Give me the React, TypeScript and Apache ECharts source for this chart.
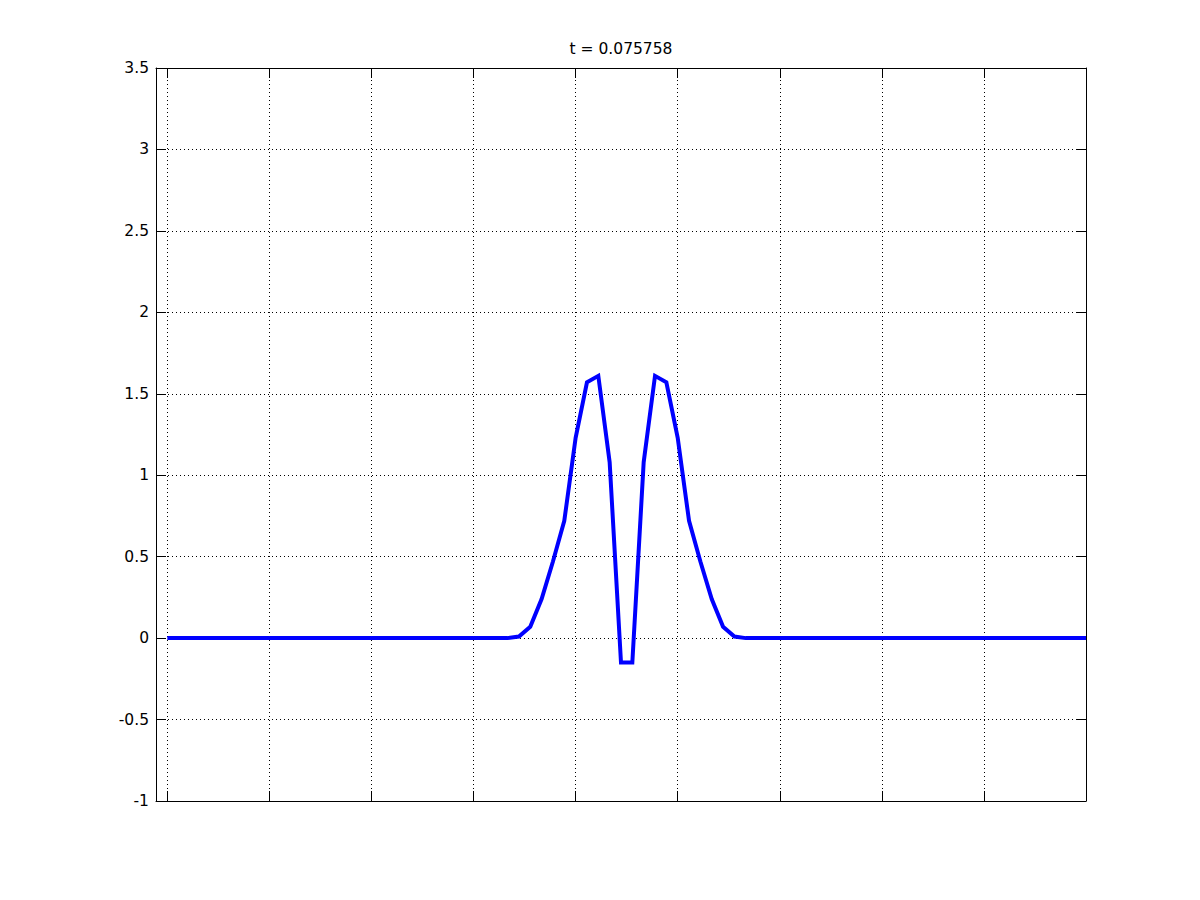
import React, { useEffect, useRef } from "react";
import * as echarts from "echarts";

const TITLE = "t = 0.075758";
const X_STEP = 1 / 9;
const X_MIN = -0.111;
const X_MAX = 9;
const X_TICKS = [0, 1, 2, 3, 4, 5, 6, 7, 8, 9];
const Y_MIN = -1;
const Y_MAX = 3.5;
const Y_INTERVAL = 0.5;

const Z31 = [0, 0, 0, 0, 0, 0, 0, 0, 0, 0, 0, 0, 0, 0, 0, 0, 0, 0, 0, 0, 0, 0, 0, 0, 0, 0, 0, 0, 0, 0, 0];
const PULSE = [0.01, 0.07, 0.24, 0.47, 0.72, 1.23, 1.57, 1.61, 1.08, -0.15, -0.15, 1.08, 1.61, 1.57, 1.23, 0.72, 0.47, 0.24, 0.07, 0.01];
const Y_VALUES = [...Z31, ...PULSE, ...Z31];

const FONT = "DejaVu Sans";

export default function App() {
  const ref = useRef<HTMLDivElement>(null);
  useEffect(() => {
    if (!ref.current) return;
    const chart = echarts.init(ref.current, undefined, { renderer: "svg" });
    const data = Y_VALUES.map((y, i) => [i * X_STEP, y]);
    const gridLine = { show: true, lineStyle: { color: "#000", width: 1, type: [1, 3] } };
    const axisLine = { show: true, onZero: false, lineStyle: { color: "#000", width: 1 } };
    const tick = { show: true, inside: true, length: 10, lineStyle: { color: "#000", width: 1 } };
    chart.setOption({
      animation: false,
      backgroundColor: "#fff",
      grid: { left: 156, top: 68, right: 114, bottom: 99, containLabel: false },
      graphic: [
        {
          type: "text",
          x: 621,
          y: 49,
          style: {
            text: TITLE,
            fontFamily: FONT,
            fontSize: 15.5,
            fill: "#000",
            align: "center",
            verticalAlign: "middle",
          },
        },
      ],
      xAxis: [
        {
          type: "value",
          position: "bottom",
          min: X_MIN,
          max: X_MAX,
          axisLine,
          axisTick: { ...tick, customValues: X_TICKS },
          axisLabel: { show: false, customValues: X_TICKS },
          splitLine: gridLine,
        },
        {
          type: "value",
          position: "top",
          min: X_MIN,
          max: X_MAX,
          axisLine,
          axisTick: { ...tick, customValues: X_TICKS },
          axisLabel: { show: false, customValues: X_TICKS },
          splitLine: { show: false },
        },
      ],
      yAxis: [
        {
          type: "value",
          position: "left",
          min: Y_MIN,
          max: Y_MAX,
          interval: Y_INTERVAL,
          axisLine,
          axisTick: tick,
          axisLabel: { show: true, color: "#000", fontFamily: FONT, fontSize: 15.5, margin: 7 },
          splitLine: gridLine,
        },
        {
          type: "value",
          position: "right",
          min: Y_MIN,
          max: Y_MAX,
          interval: Y_INTERVAL,
          axisLine,
          axisTick: tick,
          axisLabel: { show: false },
          splitLine: { show: false },
        },
      ],
      series: [
        {
          type: "line",
          xAxisIndex: 0,
          yAxisIndex: 0,
          data,
          showSymbol: false,
          symbol: "none",
          lineStyle: { color: "#0000ff", width: 4, join: "miter" },
          z: 5,
        },
      ],
    });
    return () => chart.dispose();
  }, []);
  return (
    <div
      ref={ref}
      style={{ position: "absolute", left: 0, top: 0, width: 1200, height: 900 }}
    />
  );
}
